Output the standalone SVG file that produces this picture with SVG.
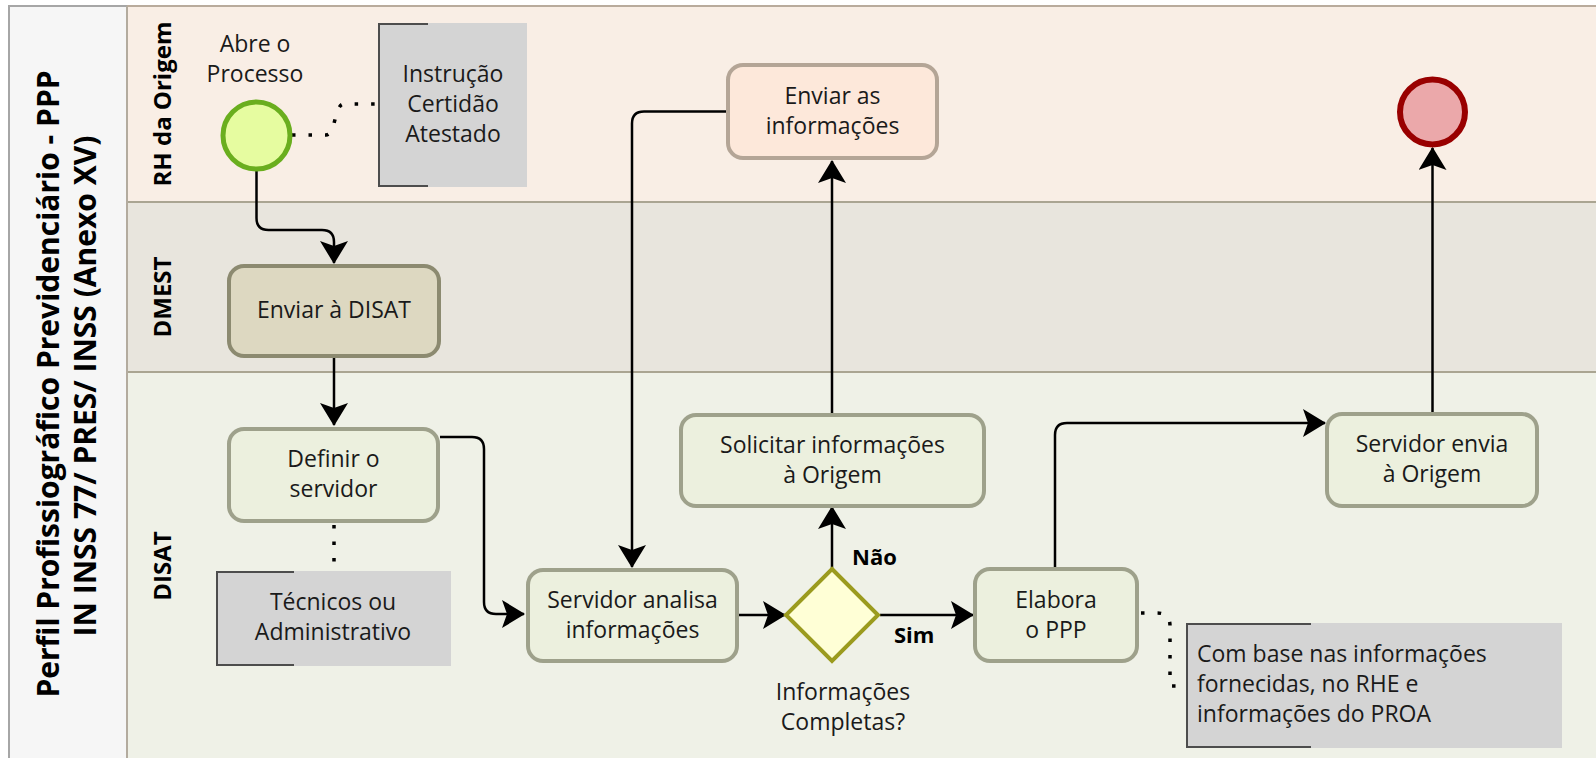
<svg xmlns="http://www.w3.org/2000/svg" width="1596" height="758" viewBox="0 0 1596 758">
<style>
text{font-family:"Open Sans","Noto Sans","Liberation Sans",sans-serif;fill:#1a1a1a}
.t{font-size:23px;text-anchor:middle}
.ta{font-size:23px}
.title{font-size:30px;font-weight:bold;text-anchor:middle;fill:#000}
.lane{font-size:24px;font-weight:bold;text-anchor:middle;fill:#000}
.lbl{font-size:22px;font-weight:bold;fill:#000}
.task{fill:#ecf0de;stroke:#9ea18b;stroke-width:4}
.task2{fill:#ddd8c1;stroke:#8c8a70;stroke-width:4}
.task3{fill:#fde8da;stroke:#b4a596;stroke-width:4}
.ann{fill:#d4d4d4}
.br{fill:none;stroke:#4d4d4d;stroke-width:2}
.flow{fill:none;stroke:#000;stroke-width:2.5;marker-end:url(#arr)}
.dot{fill:none;stroke:#000;stroke-width:3.5;stroke-dasharray:3.5 13}
</style>
<defs>
<marker id="arr" markerUnits="userSpaceOnUse" markerWidth="23" markerHeight="28" viewBox="0 0 23 28" refX="22" refY="14" orient="auto">
<path d="M0,0 L23,14 L0,28 L5,14 Z" fill="#000"/>
</marker>
</defs>
<rect width="1596" height="758" fill="#fff"/>
<g id="pool">
<rect x="9" y="6" width="118" height="760" fill="#f6f6f6" stroke="#a6a6a6" stroke-width="2"/>
<rect x="127" y="6" width="1470" height="196" fill="#f9eee5"/>
<rect x="127" y="202" width="1470" height="170" fill="#e8e5dd"/>
<rect x="127" y="372" width="1470" height="390" fill="#eff1e7"/>
<line x1="127" y1="6" x2="1596" y2="6" stroke="#b9ab9c" stroke-width="2"/>
<line x1="127" y1="202" x2="1596" y2="202" stroke="#aaa592" stroke-width="2"/>
<line x1="127" y1="372" x2="1596" y2="372" stroke="#aaa592" stroke-width="2"/>
<line x1="127" y1="6" x2="127" y2="758" stroke="#b3ab9e" stroke-width="2"/>
<text class="title" transform="translate(59,384) rotate(-90)">Perfil Profissiográfico Previdenciário - PPP</text>
<text class="title" transform="translate(96,386) rotate(-90)">IN INSS 77/ PRES/ INSS (Anexo XV)</text>
<text class="lane" transform="translate(171,104) rotate(-90)">RH da Origem</text>
<text class="lane" transform="translate(171,297) rotate(-90)">DMEST</text>
<text class="lane" transform="translate(171,566) rotate(-90)">DISAT</text>
</g>
<g id="connectors">
<path class="flow" d="M256.5,169 V218 Q256.5,230 268.5,230 H322 Q334,230 334,242 V263"/>
<path class="flow" d="M334,358 V425"/>
<path class="flow" d="M440,437 H472 Q484,437 484,449 V602 Q484,614 496,614 H524"/>
<path class="flow" d="M739,615 H785"/>
<path class="flow" d="M832,568 V507"/>
<path class="flow" d="M880,615 H973"/>
<path class="flow" d="M832,413 V161"/>
<path class="flow" d="M726,111.5 H644 Q632,111.5 632,123.5 V567"/>
<path class="flow" d="M1055,567 V435 Q1055,423 1067,423 H1325"/>
<path class="flow" d="M1432.5,412 V148"/>
<path class="dot" d="M292,135 H326 C336,135 334,104 344,104 H378"/>
<path class="dot" d="M334,525 V571"/>
<path class="dot" d="M1141,613 H1157 Q1170,613 1170,626 V686 H1186"/>
<text class="lbl" x="852" y="565">Não</text>
<text class="lbl" x="894" y="643">Sim</text>
</g>
<g id="start">
<circle cx="256.5" cy="135.5" r="33.5" fill="#e6fca0" stroke="#6aae1e" stroke-width="5"/>
<text class="t" x="255" y="52">Abre o</text>
<text class="t" x="255" y="82">Processo</text>
</g>
<g id="ann-instrucao">
<rect class="ann" x="378" y="23" width="149" height="164"/>
<path class="br" d="M428,24 H379 V186 H428"/>
<text class="t" x="453" y="82">Instrução</text>
<text class="t" x="453" y="112">Certidão</text>
<text class="t" x="453" y="142">Atestado</text>
</g>
<g id="enviar-disat">
<rect class="task2" x="229" y="266" width="210" height="90" rx="15"/>
<text class="t" x="334" y="318">Enviar à DISAT</text>
</g>
<g id="definir">
<rect class="task" x="229" y="429" width="209" height="92" rx="15"/>
<text class="t" x="333.5" y="467">Definir o</text>
<text class="t" x="333.5" y="497">servidor</text>
</g>
<g id="ann-tecnicos">
<rect class="ann" x="216" y="571" width="235" height="95"/>
<path class="br" d="M294,572 H217 V665 H294"/>
<text class="t" x="333" y="610">Técnicos ou</text>
<text class="t" x="333" y="640">Administrativo</text>
</g>
<g id="servidor-analisa">
<rect class="task" x="528" y="570" width="209" height="91" rx="15"/>
<text class="t" x="632.5" y="608">Servidor analisa</text>
<text class="t" x="632.5" y="638">informações</text>
</g>
<g id="gateway">
<path d="M832,569 L878,615 L832,661 L786,615 Z" fill="#ffffd6" stroke="#9b9b1e" stroke-width="4"/>
<text class="t" x="843" y="700">Informações</text>
<text class="t" x="843" y="730">Completas?</text>
</g>
<g id="solicitar">
<rect class="task" x="681" y="415" width="303" height="91" rx="15"/>
<text class="t" x="832.5" y="453">Solicitar informações</text>
<text class="t" x="832.5" y="483">à Origem</text>
</g>
<g id="enviar-informacoes">
<rect class="task3" x="728" y="65" width="209" height="93" rx="15"/>
<text class="t" x="832.5" y="104">Enviar as</text>
<text class="t" x="832.5" y="134">informações</text>
</g>
<g id="elabora">
<rect class="task" x="975" y="569" width="162" height="92" rx="15"/>
<text class="t" x="1056" y="608">Elabora</text>
<text class="t" x="1056" y="638">o PPP</text>
</g>
<g id="ann-com-base">
<rect class="ann" x="1186" y="623" width="376" height="125"/>
<path class="br" d="M1311,624 H1187 V747 H1311"/>
<text class="ta" x="1197" y="662">Com base nas informações</text>
<text class="ta" x="1197" y="692">fornecidas, no RHE e</text>
<text class="ta" x="1197" y="722">informações do PROA</text>
</g>
<g id="servidor-envia">
<rect class="task" x="1327" y="414" width="210" height="92" rx="15"/>
<text class="t" x="1432" y="452">Servidor envia</text>
<text class="t" x="1432" y="482">à Origem</text>
</g>
<g id="end">
<circle cx="1432.5" cy="112" r="32.5" fill="#eba8aa" stroke="#990000" stroke-width="6"/>
</g>
</svg>
